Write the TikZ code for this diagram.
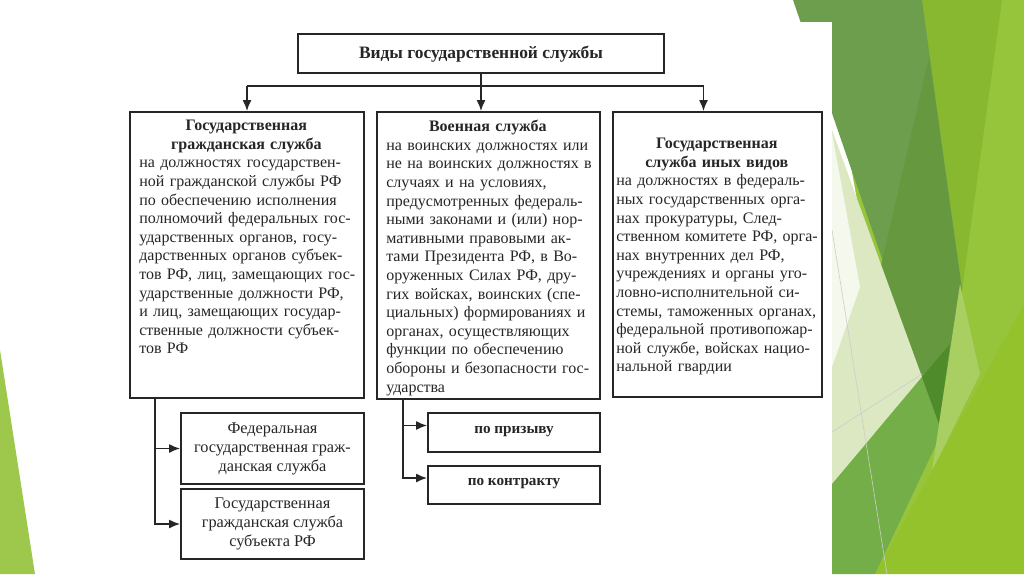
\documentclass[tikz,border=0pt]{standalone}
\usepackage{fontspec}
\setmainfont{Liberation Serif}
\usetikzlibrary{arrows.meta}

\definecolor{inkgray}{HTML}{262626}
\definecolor{leafdark}{HTML}{6C9E4E}
\definecolor{leafdeep}{HTML}{66993F}
\definecolor{leafolive}{HTML}{88B830}
\definecolor{leaflight}{HTML}{96C43B}
\definecolor{leafmid}{HTML}{74AE48}
\definecolor{leafpale}{HTML}{DCE8C2}
\definecolor{leafbright}{HTML}{93C22D}
\definecolor{leafsoft}{HTML}{A9CF63}
\definecolor{leafshade}{HTML}{4F8B2A}
\definecolor{leafleft}{HTML}{9DC84B}

% centred bold heading line inside a left-aligned panel text
\newcommand{\panelhead}[2]{\makebox[#1][c]{\textbf{#2}}}

\begin{document}
\begin{tikzpicture}[x=1pt,y=1pt,
    panel/.style={draw=inkgray, line width=1.8pt, inner sep=0pt},
    paneltext/.style={inner sep=0pt, align=left, text width=260, text=inkgray,
        font=\fontsize{16}{18.6}\selectfont},
    boxtext/.style={inner sep=0pt, align=center, text=inkgray,
        font=\fontsize{16.3}{19}\selectfont},
    boldtext/.style={inner sep=0pt, align=center, text=inkgray,
        font=\fontsize{15.2}{18}\selectfont\bfseries},
    link/.style={draw=inkgray, line width=1.7pt},
    arr/.style={link, -{Latex[length=11pt,width=9pt]}}]
    \useasboundingbox (0,0) rectangle (1024,-574);
    % slide background
    \fill [white] (0,0) rectangle (1024,-574);
    \fill [leaflight] (832,0) rectangle (1024,-574);
    \fill [white] (832,-60) -- (874,-296) -- (875,-574) -- (832,-574) -- cycle;
    \fill [leafolive] (922,0) -- (1002,0) -- (962,-290) -- cycle;
    \fill [leafdark] (793,0) -- (922,0) -- (962,-290) -- (939,-424) -- cycle;
    \fill [leafdeep] (929,-57) -- (962,-290) -- (939,-424) -- (874,-296) -- cycle;
    \fill [leafpale] (832,-130) -- (922,-377) -- (832,-484) -- cycle;
    \fill [white!70!leafpale] (832,-133) -- (860,-287) -- (832,-367) -- cycle;
    \fill [leafmid] (832,-484) -- (922,-377) -- (942,-432) -- (875,-574) -- (832,-574) -- cycle;
    \fill [leafshade] (922,-377) -- (950,-344) -- (939,-424) -- cycle;
    \fill [leafsoft] (960,-284) -- (980,-374) -- (932,-471) -- (939,-424) -- cycle;
    \fill [leafbright] (875,-574) -- (1024,-304) -- (1024,-574) -- cycle;
    \draw [black!20, line width=0.6pt] (832,-230) -- (887,-574);
    \draw [black!20, line width=0.6pt] (832,-432) -- (922,-374);
    \fill [white] (40,-22) rectangle (832,-574);
    \fill [leafleft] (0,-350) -- (35,-574) -- (0,-574) -- cycle;

    % boxes
    \node [panel, minimum width=366, minimum height=39] (kinds) at (481,-53.5) {};
    \node [boldtext, font=\fontsize{17.4}{19}\selectfont\bfseries] at ([yshift=-1]kinds) {Виды государственной службы};
    \node [panel, minimum width=234, minimum height=286] (civil) at (247,-255) {};
    \node [panel, minimum width=223, minimum height=287] (military) at (488.5,-255.5) {};
    \node [panel, minimum width=209, minimum height=285] (other) at (717.5,-254.5) {};
    \node [panel, minimum width=183, minimum height=71] (federal) at (272.5,-448.5) {};
    \node [panel, minimum width=183, minimum height=70] (subject) at (272.5,-524) {};
    \node [panel, minimum width=172, minimum height=39] (draft) at (514,-432.5) {};
    \node [panel, minimum width=172, minimum height=38] (contract) at (514,-485) {};

    % texts
    \node [paneltext, anchor=north west] (civiltext)
        at ([xshift=10,yshift=-9]civil.north west) {%
        \panelhead{214pt}{Государственная}\\
        \panelhead{214pt}{гражданская служба}\\
        на должностях государствен-\\
        ной гражданской службы РФ\\
        по обеспечению исполнения\\
        полномочий федеральных гос-\\
        ударственных органов, госу-\\
        дарственных органов субъек-\\
        тов РФ, лиц, замещающих гос-\\
        ударственные должности РФ,\\
        и лиц, замещающих государ-\\
        ственные должности субъек-\\
        тов РФ};
    \node [paneltext, anchor=north west] (militarytext)
        at ([xshift=10,yshift=-9]military.north west) {%
        \panelhead{203pt}{Военная служба}\\
        на воинских должностях или\\
        не на воинских должностях в\\
        случаях и на условиях,\\
        предусмотренных федераль-\\
        ными законами и (или) нор-\\
        мативными правовыми ак-\\
        тами Президента РФ, в Во-\\
        оруженных Силах РФ, дру-\\
        гих войсках, воинских (спе-\\
        циальных) формированиях и\\
        органах, осуществляющих\\
        функции по обеспечению\\
        обороны и безопасности гос-\\
        ударства};
    \node [paneltext, anchor=north west] (othertext)
        at ([xshift=4,yshift=-27]other.north west) {%
        \panelhead{201pt}{Государственная}\\
        \panelhead{201pt}{служба иных видов}\\
        на должностях в федераль-\\
        ных государственных орга-\\
        нах прокуратуры, След-\\
        ственном комитете РФ, орга-\\
        нах внутренних дел РФ,\\
        учреждениях и органы уго-\\
        ловно-исполнительной си-\\
        стемы, таможенных органах,\\
        федеральной противопожар-\\
        ной службе, войсках нацио-\\
        нальной гвардии};
    \node [boxtext] at (federal) {Федеральная\\государственная граж-\\данская служба};
    \node [boxtext] at (subject) {Государственная\\гражданская служба\\субъекта РФ};
    \node [boldtext] at ([yshift=1]draft) {по призыву};
    \node [boldtext] at ([yshift=1]contract) {по контракту};

    % connectors
    \coordinate (bus) at (0,-86);
    \draw [link] (kinds.south) -- (kinds.south |- bus);
    \draw [link] (civil.north |- bus) -- ([xshift=-14]other.north |- bus);
    \draw [arr] (civil.north |- bus) -- (civil.north);
    \draw [arr] (kinds.south |- bus) -- (kinds.south |- military.north);
    \draw [arr] ([xshift=-14]other.north |- bus) -- ([xshift=-14]other.north);
    \draw [link] ([xshift=-92]civil.south) -- ([xshift=-92]civil.south |- subject.west);
    \draw [arr] ([xshift=-92]civil.south) |- (federal.west);
    \draw [arr] ([xshift=-92]civil.south) |- (subject.west);
    \draw [link] ([xshift=-85.5]military.south) -- ([xshift=-85.5,yshift=7]military.south |- contract.west);
    \draw [arr] ([xshift=-85.5]military.south) |- ([yshift=7]draft.west);
    \draw [arr] ([xshift=-85.5]military.south) |- ([yshift=7]contract.west);
\end{tikzpicture}
\end{document}
